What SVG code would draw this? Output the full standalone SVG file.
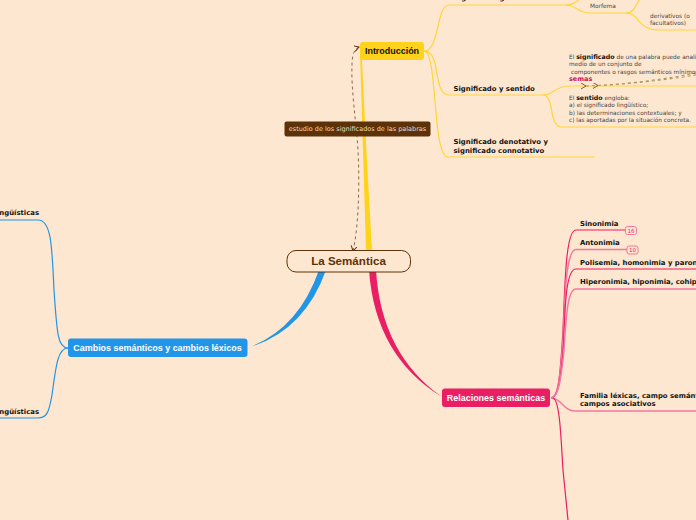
<svg xmlns="http://www.w3.org/2000/svg" width="696" height="520" viewBox="0 0 696 520">
<style>
.t{font-family:"DejaVu Sans",Verdana,sans-serif}
.l{font-size:6.9px;font-weight:bold;fill:#111}
.s{font-size:5.8px;fill:#444}
.b{font-weight:bold;fill:#111;font-size:6.3px}
.n{font-family:"Liberation Sans",Arial,sans-serif;font-weight:bold;font-size:8.950px}
.y{fill:none;stroke:#ffd53a;stroke-width:1.200}
.r{fill:none;stroke:#e91e63;stroke-width:1.200}
.p{fill:none;stroke:#f5779f;stroke-width:1.500}
.c{fill:none;stroke:#2196e8;stroke-width:1.200}
.d{fill:none;stroke:#b09a60;stroke-width:1.100;stroke-dasharray:3 3}
</style>
<defs>
<marker id="a" markerUnits="userSpaceOnUse" markerWidth="7" markerHeight="7" refX="5" refY="3" orient="auto-start-reverse"><path d="M0 0L5 3L0 6" fill="none" stroke="#5d3208" stroke-width="1"/></marker>
<marker id="m" markerUnits="userSpaceOnUse" markerWidth="7" markerHeight="7" refX="5" refY="3" orient="0"><path d="M0 0L5 3L0 6" fill="none" stroke="#7a6330" stroke-width="1"/></marker>
</defs>
<rect width="696" height="520" fill="#fee7d0"/>
<g id="connectors">
<path d="M361.500 50Q366 150 372 251L366 251Q363 150 360 50Z" fill="#ffd21c"/>
<path d="M326 270Q304 332 247 348Q298 330 319 270Z" fill="#2196e8"/>
<path d="M369 270Q375 356 442 397Q381 354 376 270Z" fill="#e91e63"/>
<path class="y" d="M424 51C440 51 436 5 449 5L566 5C575 5 578 0 582 -3"/>
<path class="y" d="M566 5C576 5 578 13 590 13L626 13C634 13 636 5 640 -1"/>
<path class="y" d="M626 13C640 13 636 30 660 30L696 30"/>
<path class="y" d="M424 51C442 51 432 95 449 95L543 95C553 95 555 86 570 86L696 86"/>
<path class="y" d="M543 95C555 95 548 127 562 127L696 127"/>
<path class="y" d="M424 51C438 51 432 157 448 157L595 157"/>
<path class="c" d="M68 348C58 348 57 335 54 290C52 250 52 220 38 220L0 220"/>
<path class="c" d="M68 348C58 348 56 365 52 395C49 412 47 418 38 418L0 418"/>
<path class="r" d="M551 398C558 398 560 380 563 330C565 280 566 230 576 230L625 230"/>
<path class="p" d="M551 398C558 398 560 380 563 340C565 295 566 249.500 576 249.500L627 249.500"/>
<path class="r" d="M551 398C558 398 561 380 563.500 345C565 305 566 269 576 269L696 269"/>
<path class="p" d="M551 398C558 398 561 380 564 350C566 320 567 289 576 289L696 289"/>
<path class="p" d="M551 398C562 398 563 411 575 411L696 411"/>
<path class="r" d="M553 398C560 400 561 440 563 470C565 490 567 510 568 520"/>
<path d="M353 251C358 230 360 190 358 150C356 120 351 90 352 65C352 52 356 48 359 47" fill="none" stroke="#7a5a3a" stroke-width="0.900" stroke-dasharray="3 3" marker-start="url(#a)" marker-end="url(#a)"/>
<path class="d" d="M586 86C620 85 660 80 696 73" marker-start="url(#m)"/>
<path class="d" d="M598 85.500C630 84 665 80 696 75" marker-start="url(#m)"/>
</g>
<g id="root"><rect x="287" y="250.500" width="123.500" height="21.500" rx="9" fill="#fee7d0" stroke="#5d3208"/><text class="n" x="348.500" y="265" text-anchor="middle" fill="#5d3208" style="font-size:11.600px">La Semántica</text></g>
<g id="intro"><rect x="360" y="42" width="64" height="18" rx="3" fill="#ffd21c"/><text class="n" x="392" y="54.300" text-anchor="middle" fill="#111">Introducción</text></g>
<g id="note"><rect x="284.500" y="121.500" width="146" height="15" rx="2" fill="#5d3208"/><text class="t" x="357.500" y="131" text-anchor="middle" fill="#ead9c2" font-size="6.500">estudio de los significados de las palabras</text></g>
<g id="cambios"><rect x="68" y="338.500" width="179.500" height="18.500" rx="3" fill="#2196e8"/><text class="n" x="157.500" y="351.200" text-anchor="middle" fill="#fff">Cambios semánticos y cambios léxicos</text></g>
<g id="relaciones"><rect x="442" y="388.500" width="108" height="18.500" rx="3" fill="#e91e63"/><text class="n" x="496" y="401.200" text-anchor="middle" fill="#fff">Relaciones semánticas</text></g>
<g id="sig-gram"><text class="t l" x="454" y="-0.500">Significado gramatical</text></g>
<g id="morfema"><text class="t s" x="590" y="8">Morfema</text></g>
<g id="derivativos"><text class="t s" x="650" y="18">derivativos (o</text><text class="t s" x="650" y="25">facultativos)</text></g>
<g id="sig-sen"><text class="t l" x="453.500" y="91">Significado y sentido</text></g>
<g id="sig-text"><text class="t s" x="569" y="59">El <tspan class="b">significado</tspan> de una palabra puede analizarse por</text><text class="t s" x="569" y="66">medio de un conjunto de</text><text class="t s" x="571" y="74"> componentes o rasgos semánticos mínimos</text><text class="t" x="569" y="81" font-size="6.500" font-weight="bold" fill="#c2185b">semas</text></g>
<g id="sentido"><text class="t s" x="569" y="100">El <tspan class="b">sentido</tspan> engloba:</text><text class="t s" x="569" y="107">a) el significado lingüístico;</text><text class="t s" x="569" y="115">b) las determinaciones contextuales; y</text><text class="t s" x="569" y="122">c) las aportadas por la situación concreta.</text></g>
<g id="denot"><text class="t l" x="453.500" y="144">Significado denotativo y</text><text class="t l" x="453.500" y="153">significado connotativo</text></g>
<g id="ling1"><text class="t l" x="39" y="215" text-anchor="end">Causas lingüísticas</text></g>
<g id="ling2"><text class="t l" x="39" y="414" text-anchor="end">Causas extralingüísticas</text></g>
<g id="sinonimia"><text class="t l" x="580" y="226">Sinonimia</text><rect x="625.500" y="226.500" width="11" height="8" rx="2" fill="#fee7d0" stroke="#f5779f"/><text class="t" x="631" y="232.700" text-anchor="middle" font-size="5.500" fill="#e91e63">16</text></g>
<g id="antonimia"><text class="t l" x="580" y="245">Antonimia</text><rect x="627" y="246" width="11" height="8" rx="2" fill="#fee7d0" stroke="#f5779f"/><text class="t" x="632.500" y="252.200" text-anchor="middle" font-size="5.500" fill="#e91e63">10</text></g>
<g id="polisemia"><text class="t l" x="580" y="265">Polisemia, homonimia y paronimia</text></g>
<g id="hiper"><text class="t l" x="580" y="284">Hiperonimia, hiponimia, cohiponimia</text></g>
<g id="familia"><text class="t l" x="580" y="398">Familia léxicas, campo semántico y</text><text class="t l" x="580" y="406">campos asociativos</text></g>
</svg>
